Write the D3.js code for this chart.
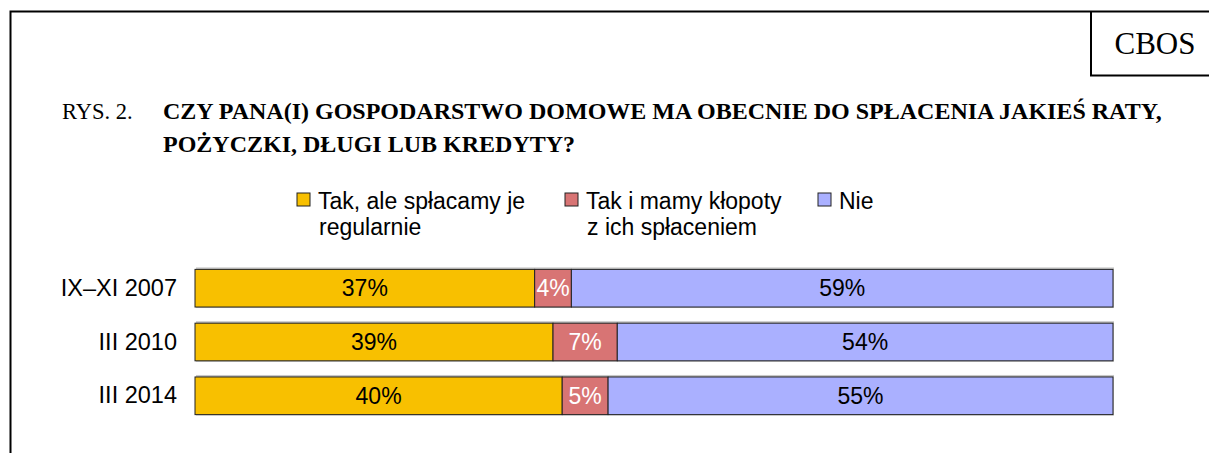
<!DOCTYPE html>
<html>
<head>
<meta charset="utf-8">
<script src="https://cdn.jsdelivr.net/npm/d3@7"></script>
<style>
  body { margin: 0; background: #fff; }
  svg { display: block; }
</style>
</head>
<body>
<script>
const w = 1209;
const h = 453;
const margin = { left: 195, right: 96, top: 264, bottom: 33 };

// data
const categories = ["IX\u2013XI 2007", "III 2010", "III 2014"];
const seriesNames = ["Tak, ale spłacamy je|regularnie", "Tak i mamy kłopoty|z ich spłaceniem", "Nie"];
const regularly = [37, 39, 40];
const withTrouble = [4, 7, 5];
const no = [59, 54, 55];
const colors = ["#f8c000", "#d87474", "#aab0ff"];
const labelColors = ["#000", "#fff", "#000"];

const table = categories.map((c, i) => ({ cat: c, s0: regularly[i], s1: withTrouble[i], s2: no[i] }));
const keys = ["s0", "s1", "s2"];
const stacked = d3.stack().keys(keys)(table);

const svg = d3.select("body").append("svg")
    .attr("width", w)
    .attr("height", h);

// frame
svg.append("path")
    .attr("d", `M10.5,${h} V11.5 H${w}`)
    .attr("fill", "none")
    .attr("stroke", "#000")
    .attr("stroke-width", 2);
svg.append("path")
    .attr("d", `M1091,11.5 V75.5 H${w}`)
    .attr("fill", "none")
    .attr("stroke", "#000")
    .attr("stroke-width", 2);
svg.append("text")
    .attr("x", 1155)
    .attr("y", 54)
    .attr("text-anchor", "middle")
    .attr("font-family", "Liberation Serif, serif")
    .attr("font-size", 31)
    .text("CBOS");

// title
const serif = "Liberation Serif, serif";
svg.append("text")
    .attr("x", 62).attr("y", 119)
    .attr("font-family", serif).attr("font-size", 22.5)
    .text("RYS. 2.");
svg.append("text")
    .attr("x", 163).attr("y", 119)
    .attr("font-family", serif).attr("font-size", 24).attr("font-weight", "bold")
    .text("CZY PANA(I) GOSPODARSTWO DOMOWE MA OBECNIE DO SPŁACENIA JAKIEŚ RATY,");
svg.append("text")
    .attr("x", 163).attr("y", 152)
    .attr("font-family", serif).attr("font-size", 24).attr("font-weight", "bold")
    .text("POŻYCZKI, DŁUGI LUB KREDYTY?");

// scales
const xScale = d3.scaleLinear()
    .domain([0, 100])
    .range([margin.left, w - margin.right]);

const yScale = d3.scaleBand()
    .domain(categories)
    .range([margin.top, h - margin.bottom])
    .paddingInner(0.3)
    .paddingOuter(0.1);

const sans = "Liberation Sans, Arial, sans-serif";
const fs = 23;

// category axis
const yAxis = d3.axisLeft(yScale).tickSize(0).tickPadding(18);
svg.append("g")
    .attr("transform", `translate(${margin.left}, 0)`)
    .call(yAxis)
    .call(g => g.select(".domain").remove())
    .selectAll("text")
    .attr("font-family", sans)
    .attr("font-size", 23.5)
    .attr("fill", "#000");

// shadows
svg.append("g").selectAll("rect")
    .data(table)
    .join("rect")
    .attr("x", xScale(0) + 1)
    .attr("y", d => yScale(d.cat) - 2)
    .attr("width", xScale(100) - xScale(0))
    .attr("height", yScale.bandwidth() + 3)
    .attr("fill", "#c8c8c8");

// bars
const layers = svg.append("g").selectAll("g")
    .data(stacked)
    .join("g")
    .attr("fill", (d, i) => colors[i]);

layers.selectAll("rect")
    .data(d => d)
    .join("rect")
    .attr("x", d => xScale(d[0]))
    .attr("y", d => yScale(d.data.cat))
    .attr("width", d => xScale(d[1]) - xScale(d[0]))
    .attr("height", yScale.bandwidth())
    .attr("stroke", "#222")
    .attr("stroke-width", 1);

layers.each(function(layer, i) {
    d3.select(this).selectAll("text")
        .data(layer)
        .join("text")
        .attr("x", d => (xScale(d[0]) + xScale(d[1])) / 2)
        .attr("y", d => yScale(d.data.cat) + yScale.bandwidth() / 2 + 8)
        .attr("text-anchor", "middle")
        .attr("font-family", sans)
        .attr("font-size", fs)
        .attr("fill", labelColors[i])
        .text(d => (d[1] - d[0]) + "%");
});

// legend
const legendX = [297, 565, 818];
const legend = svg.append("g").selectAll("g")
    .data(seriesNames)
    .join("g")
    .attr("transform", (d, i) => `translate(${legendX[i]}, 193)`);

legend.append("rect")
    .attr("width", 13)
    .attr("height", 13)
    .attr("fill", (d, i) => colors[i])
    .attr("stroke", "#222");

legend.append("text")
    .attr("font-family", sans)
    .attr("font-size", fs)
    .selectAll("tspan")
    .data(d => d.split("|"))
    .join("tspan")
    .attr("x", (d, i) => i === 0 ? 21 : 22)
    .attr("y", (d, i) => 16 + i * 26)
    .text(d => d);
</script>
</body>
</html>
